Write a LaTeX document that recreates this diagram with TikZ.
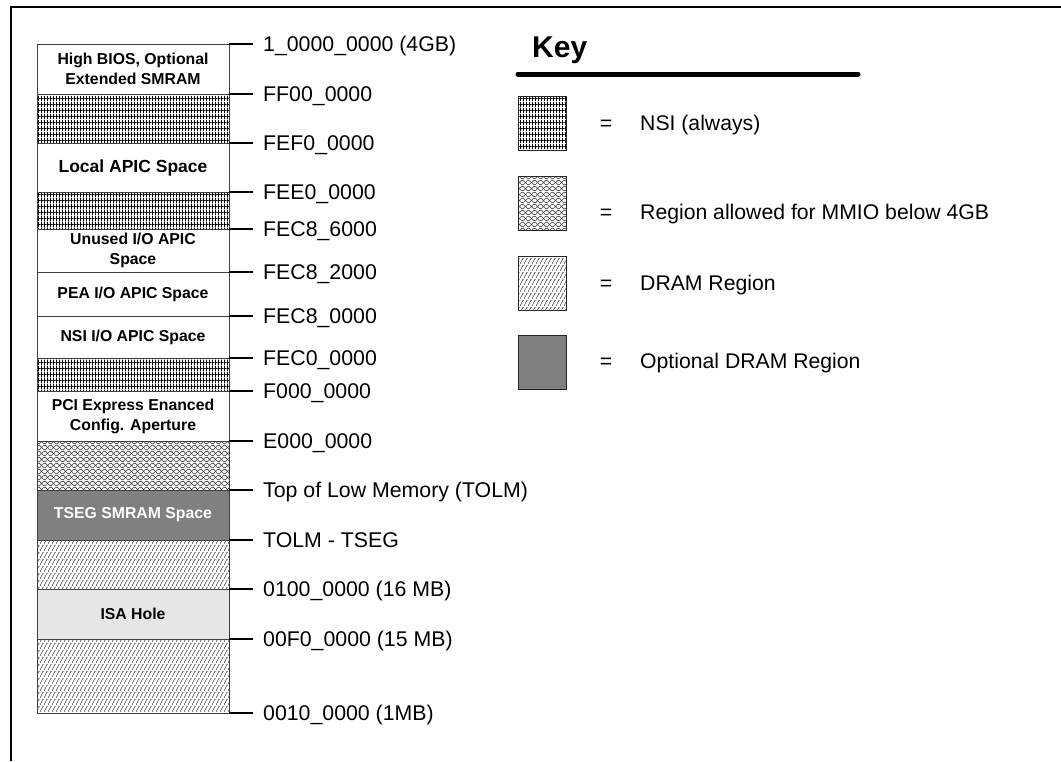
\documentclass[tikz,border=0pt]{standalone}
\usepackage{fontspec}
\setmainfont{Liberation Sans}
\usetikzlibrary{patterns.meta}

\tikzdeclarepattern{
  name=nsigrid, type=colored,
  bottom left={(0pt,0pt)}, top right={(3.4pt,6pt)}, tile size={(3.4pt,6pt)},
  code={\draw[line width=0.8pt, black] (1.7pt,0pt) -- (1.7pt,6pt) (0pt,3pt) -- (3.4pt,3pt);}
}
\tikzdeclarepattern{
  name=mmio, type=colored,
  bottom left={(0pt,0pt)}, top right={(5.5pt,5.5pt)}, tile size={(5.5pt,5.5pt)},
  code={\draw[line width=0.6pt, black!75] (0pt,0pt) -- (5.5pt,5.5pt) (0pt,5.5pt) -- (5.5pt,0pt);}
}
\tikzdeclarepattern{
  name=dram, type=colored,
  bottom left={(0pt,0pt)}, top right={(4pt,7pt)}, tile size={(4pt,7pt)},
  code={\draw[line width=0.6pt, black!80] (0pt,0pt) -- (4pt,7pt);}
}
\definecolor{optgray}{RGB}{128,128,128}
\definecolor{isagray}{RGB}{230,230,230}

\begin{document}
\begin{tikzpicture}[x=1pt,y=-1pt,
  region/.style={draw=black!75, line width=0.8pt, minimum width=192pt, anchor=north,
    inner sep=0pt, outer sep=0pt, font=\bfseries\fontsize{15.8}{20}\selectfont, align=center},
  addr/.style={anchor=west, inner xsep=10pt, inner ysep=0pt, text height=15.2pt, text depth=0pt,
    font=\fontsize{21.3}{25}\selectfont},
  tick/.style={draw=black, line width=1.2pt},
  keybox/.style={draw=black!85, line width=0.9pt, minimum width=48pt, minimum height=54pt, inner sep=0pt},
  keytext/.style={inner sep=0pt, text height=15.2pt, text depth=0pt, font=\fontsize{21.2}{25}\selectfont},
]
\useasboundingbox (0,0) rectangle (1061,761);
\fill[white] (0,0) rectangle (1061,761);
% frame
\draw[line width=2.8pt] (11,761) -- (11,7) -- (1061,7);

% memory column
\node[region, minimum height=50pt] (r1) at (133,44) {High BIOS, Optional\\Extended SMRAM};
\node[region, minimum height=49pt, pattern=nsigrid] (r2) at (r1.south) {};
\node[region, minimum height=49pt, font=\bfseries\fontsize{17.5}{21}\selectfont] (r3) at (r2.south) {Local APIC Space};
\node[region, minimum height=37pt, pattern=nsigrid] (r4) at (r3.south) {};
\node[region, minimum height=43pt] (r5) at (r4.south) {Unused I/O APIC\\Space};
\node[region, minimum height=44pt] (r6) at (r5.south) {PEA I/O APIC Space};
\node[region, minimum height=42pt] (r7) at (r6.south) {NSI I/O APIC Space};
\node[region, minimum height=33pt, pattern=nsigrid] (r8) at (r7.south) {};
\node[region, minimum height=50pt] (r9) at (r8.south) {PCI Express Enanced\\Config. Aperture};
\node[region, minimum height=49pt, pattern=mmio] (r10) at (r9.south) {};
\node[region, minimum height=50pt, fill=optgray, text=white] (r11) at (r10.south) {TSEG SMRAM Space};
\node[region, minimum height=49pt, pattern=dram] (r12) at (r11.south) {};
\node[region, minimum height=50pt, fill=isagray] (r13) at (r12.south) {ISA Hole};
\node[region, minimum height=74pt, pattern=dram] (r14) at (r13.south) {};

% address labels
\node[addr] (a1) at (253,44) {1\_0000\_0000 (4GB)};
\node[addr] (a2) at (253,94) {FF00\_0000};
\node[addr] (a3) at (253,143) {FEF0\_0000};
\node[addr] (a4) at (253,192) {FEE0\_0000};
\node[addr] (a5) at (253,229) {FEC8\_6000};
\node[addr] (a6) at (253,272) {FEC8\_2000};
\node[addr] (a7) at (253,316) {FEC8\_0000};
\node[addr] (a8) at (253,358) {FEC0\_0000};
\node[addr] (a9) at (253,391) {F000\_0000};
\node[addr] (a10) at (253,441) {E000\_0000};
\node[addr] (a11) at (253,490) {Top of Low Memory (TOLM)};
\node[addr] (a12) at (253,540) {TOLM - TSEG};
\node[addr] (a13) at (253,589) {0100\_0000 (16 MB)};
\node[addr] (a14) at (253,639) {00F0\_0000 (15 MB)};
\node[addr] (a15) at (253,713) {0010\_0000 (1MB)};

\foreach \i in {1,...,14} { \draw[tick] (r\i.north east) -- (a\i.west); }
\draw[tick] (r14.south east) -- (a15.west);

% key
\node[anchor=base west, inner sep=0pt, font=\bfseries\fontsize{30}{36}\selectfont] (keyt) at (532,57) {Key};
\draw[line width=5pt, line cap=round] (518,74) -- (858,74);

\node[keybox, pattern=nsigrid] (k1) at (542,123) {};
\node[keybox, pattern=mmio] (k2) at (542,203) {};
\node[keybox, pattern=dram] (k3) at (542,283) {};
\node[keybox, fill=optgray] (k4) at (542,362) {};

\node[keytext] (e1) at (606,123) {=};
\node[keytext] (e2) at (606,212) {=};
\node[keytext] (e3) at (606,283) {=};
\node[keytext] (e4) at (606,361) {=};

\node[keytext, anchor=west] (t1) at (640,123) {NSI (always)};
\node[keytext, anchor=west] (t2) at (640,212) {Region allowed for MMIO below 4GB};
\node[keytext, anchor=west] (t3) at (640,283) {DRAM Region};
\node[keytext, anchor=west] (t4) at (640,361) {Optional DRAM Region};
\end{tikzpicture}
\end{document}
